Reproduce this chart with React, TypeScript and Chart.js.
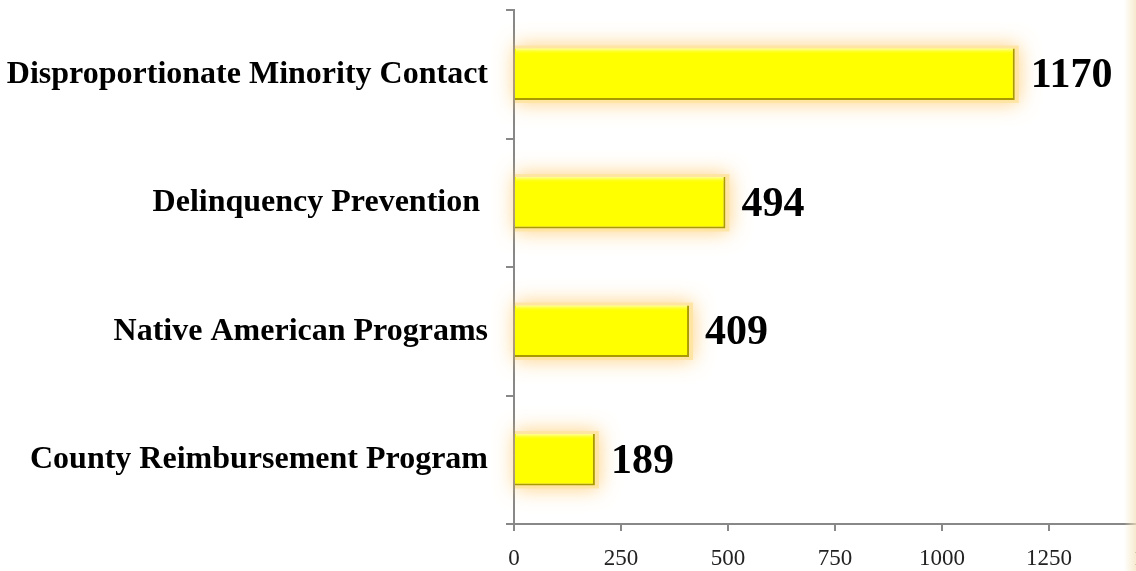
import { useEffect, useRef } from "react";
import { Chart, registerables } from "chart.js";

Chart.register(...registerables);

const categories = [
  "Disproportionate Minority Contact",
  "Delinquency Prevention ",
  "Native American Programs",
  "County Reimbursement Program",
];
const values = [1170, 494, 409, 189];
const xMin = 0;
const xMax = 1500;
const xStep = 250;

const SERIF = "'Liberation Serif', 'Times New Roman', serif";

const glowPlugin = {
  id: "barGlow",
  beforeDatasetsDraw(chart: any) {
    const ctx = chart.ctx;
    const meta = chart.getDatasetMeta(0);
    ctx.save();
    ctx.shadowColor = "rgba(255, 195, 90, 0.85)";
    ctx.shadowBlur = 20;
    ctx.fillStyle = "rgba(255, 228, 160, 0.9)";
    meta.data.forEach((bar: any) => {
      const { x, y, base, height } = bar.getProps(["x", "y", "base", "height"], true);
      ctx.fillRect(base, y - height / 2 - 3, x - base + 4, height + 6);
    });
    ctx.restore();
  },
};

const labelPlugin = {
  id: "valueLabels",
  afterDatasetsDraw(chart: any) {
    const ctx = chart.ctx;
    const meta = chart.getDatasetMeta(0);
    ctx.save();
    // top highlight on each bar
    meta.data.forEach((bar: any) => {
      const { x, y, base, height } = bar.getProps(["x", "y", "base", "height"], true);
      const top = y - height / 2;
      const g = ctx.createLinearGradient(0, top, 0, top + 6);
      g.addColorStop(0, "rgba(255,255,170,0.95)");
      g.addColorStop(1, "rgba(255,255,0,0)");
      ctx.fillStyle = g;
      ctx.fillRect(base + 1, top, x - base - 3, 6);
    });
    ctx.font = `bold 42px ${SERIF}`;
    ctx.fillStyle = "#000";
    ctx.textAlign = "left";
    ctx.textBaseline = "middle";
    meta.data.forEach((bar: any, i: number) => {
      const { x, y } = bar.getProps(["x", "y"], true);
      ctx.fillText(String(values[i]), x + 16, y + 2);
    });
    ctx.restore();
  },
};

export default function App() {
  const ref = useRef<HTMLCanvasElement | null>(null);

  useEffect(() => {
    if (!ref.current) return;
    const chart = new Chart(ref.current, {
      type: "bar",
      data: {
        labels: categories,
        datasets: [
          {
            data: values,
            backgroundColor: "#FFFF00",
            borderColor: "#A89A00",
            borderWidth: { top: 0, right: 2, bottom: 2, left: 0 },
            borderSkipped: false,
            barPercentage: 0.4,
            categoryPercentage: 1,
          },
        ],
      },
      options: {
        indexAxis: "y",
        responsive: false,
        animation: false,
        layout: { padding: { top: 10, right: 34, bottom: 0, left: 0 } },
        plugins: {
          legend: { display: false },
          tooltip: { enabled: false },
        },
        scales: {
          x: {
            type: "linear",
            min: xMin,
            max: xMax,
            ticks: {
              stepSize: xStep,
              color: "#222",
              font: { family: SERIF, size: 23 },
              padding: 14,
              maxRotation: 0,
              callback: (v: any) => String(v),
            },
            grid: {
              drawOnChartArea: false,
              drawTicks: true,
              tickLength: 7,
              color: "#888",
              lineWidth: 2,
            },
            border: { display: true, color: "#888", width: 2 },
            afterFit(scale: any) {
              scale.height = 47;
              scale.paddingLeft = 0;
              scale.paddingRight = 0;
            },
          },
          y: {
            type: "category",
            ticks: {
              color: "#000",
              font: { family: SERIF, size: 32, weight: "bold" },
              padding: 18,
            },
            grid: {
              drawOnChartArea: false,
              drawTicks: true,
              tickLength: 8,
              offset: true,
              color: "#888",
              lineWidth: 2,
            },
            border: { display: true, color: "#888", width: 2 },
            afterFit(scale: any) {
              scale.width = 514;
              scale.paddingTop = 0;
              scale.paddingBottom = 0;
            },
          },
        },
      },
      plugins: [glowPlugin, labelPlugin],
    });
    return () => chart.destroy();
  }, []);

  return (
    <div
      style={{
        position: "fixed",
        left: 0,
        top: 0,
        width: 1136,
        height: 571,
        overflow: "hidden",
        background: "#fff",
      }}
    >
      <canvas ref={ref} width={1190} height={571} style={{ display: "block" }} />
      <div
        style={{
          position: "absolute",
          right: 0,
          top: 0,
          width: 12,
          height: 571,
          background:
            "linear-gradient(to right, rgba(250,240,215,0), rgba(245,228,190,0.75))",
          pointerEvents: "none",
        }}
      />
    </div>
  );
}
